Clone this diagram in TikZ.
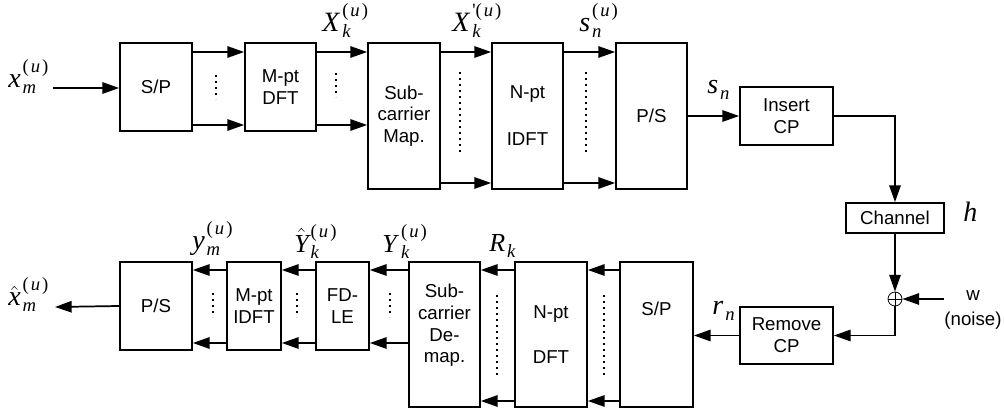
\documentclass[tikz,border=0pt]{standalone}
\usepackage{amsmath}
\usepackage{fontspec}
\setsansfont{Liberation Sans}
\newfontfamily\tms{Liberation Serif}
\usetikzlibrary{arrows.meta,calc}
% #1 main size, #2 main letter, #3 subscript, #4 superscript
\newcommand{\sy}[4][21]{{\tms\fontsize{#1}{#1}\selectfont\itshape #2\/}\kern1.5pt%
  \rlap{\raisebox{-4pt}{\tms\fontsize{14}{14}\selectfont\itshape #3}}%
  \raisebox{11.5pt}{\tms\fontsize{14}{14}\selectfont #4}}
\newcommand{\uu}{(\kern1.5pt\textit{u}\kern1.5pt)}
\newcommand{\uup}{\textquotesingle(\kern1.5pt\textit{u}\kern1.5pt)}
\newcommand{\hatit}[1]{$\hat{\hbox{#1}}$}
\newcommand{\blk}[6]{\node[box, minimum width={(#4-#2)*0.75pt}, minimum height={(#5-#3)*0.75pt}] (#1) at ({(#2+#4)/2},{(#3+#5)/2}) {#6};}
\begin{document}
\begin{tikzpicture}[x=0.75pt,y=-0.75pt,
  box/.style={draw, line width=1.3pt, inner sep=0pt, align=center, font=\sffamily\fontsize{14}{16.3}\selectfont},
  txt/.style={font=\sffamily\fontsize{14}{16.3}\selectfont, align=center, inner sep=0pt},
  arr/.style={line width=1.3pt, -{Triangle[length=12.5pt,width=8.5pt]}},
  dots/.style={line width=1.6pt, dash pattern=on 1.6pt off 2.9pt},
  sym/.style={inner sep=0pt, anchor=base west}]
\useasboundingbox (0,0) rectangle (1004,409);
% levels
\coordinate (ta) at (0,52);
\coordinate (tb) at (0,125);
\coordinate (tc) at (0,183);
\coordinate (ba) at (0,270);
\coordinate (bb) at (0,343);
\coordinate (bc) at (0,401);
% top row
\blk{sp1}{120}{43}{192}{131}{S/P}
\blk{mdft}{245}{43}{316}{131}{M-pt\\DFT}
\blk{map}{368}{43}{440}{189}{Sub-\\carrier\\Map.}
\blk{idft}{492}{43}{563}{189}{N-pt\\[19pt]IDFT}
\blk{ps1}{616}{43}{687}{189}{P/S}
\blk{icp}{740}{87}{833}{145}{Insert\\CP}
\blk{chan}{846}{203}{944}{233}{Channel}
\blk{rcp}{740}{307}{833}{364}{Remove\\CP}
% bottom row
\blk{sp2}{620}{262}{693}{407}{}
\blk{ndft}{515}{262}{587}{407}{N-pt\\[18pt]DFT}
\blk{demap}{409}{262}{480}{407}{}
\blk{fdle}{316}{262}{369}{350}{FD-\\LE}
\blk{midft}{227}{262}{281}{350}{M-pt\\IDFT}
\blk{ps2}{120}{262}{192}{350}{P/S}
\node[txt] (tsp2) at ($(sp2.center)+(0,-26)$) {S/P};
\node[txt] (tdemap) at ($(demap.center)+(0,-9)$) {Sub-\\carrier\\De-\\map.};
% adder
\node[circle, draw, line width=0.6pt, minimum size=14*0.75pt, inner sep=0pt,
  path picture={\draw[line width=0.6pt] (path picture bounding box.north) -- (path picture bounding box.south)
  (path picture bounding box.west) -- (path picture bounding box.east);}] (sum) at (895,299) {};
% free ends
\coordinate (xin) at (53,88);
\coordinate (xout) at (55,307);
\coordinate (wsrc) at (944,299);
% top connectors
\draw[arr] (xin) -- (xin -| sp1.west);
\draw[arr] (sp1.east |- ta) -- (mdft.west |- ta);
\draw[arr] (sp1.east |- tb) -- (mdft.west |- tb);
\draw[arr] (mdft.east |- ta) -- (map.west |- ta);
\draw[arr] (mdft.east |- tb) -- (map.west |- tb);
\draw[arr] (map.east |- ta) -- (idft.west |- ta);
\draw[arr] (map.east |- tc) -- (idft.west |- tc);
\draw[arr] (idft.east |- ta) -- (ps1.west |- ta);
\draw[arr] (idft.east |- tc) -- (ps1.west |- tc);
\draw[arr] (ps1.east) -- (icp.west);
\draw[arr] (icp.east) -| (chan.north);
\draw[arr] (chan.south) -- (sum.north);
\draw[arr] (wsrc) -- (sum.east);
\draw[arr] (sum.south) |- (rcp.east);
\draw[arr] (rcp.west) -- (rcp.west -| sp2.east);
% bottom connectors
\draw[arr] (sp2.west |- ba) -- (ndft.east |- ba);
\draw[arr] (sp2.west |- bc) -- (ndft.east |- bc);
\draw[arr] (ndft.west |- ba) -- (demap.east |- ba);
\draw[arr] (ndft.west |- bc) -- (demap.east |- bc);
\draw[arr] (demap.west |- ba) -- (fdle.east |- ba);
\draw[arr] (demap.west |- bb) -- (fdle.east |- bb);
\draw[arr] (fdle.west |- ba) -- (midft.east |- ba);
\draw[arr] (fdle.west |- bb) -- (midft.east |- bb);
\draw[arr] (midft.west |- ba) -- (ps2.east |- ba);
\draw[arr] (midft.west |- bb) -- (ps2.east |- bb);
\draw[arr] (ps2.west) -- (xout);
% dots
\draw[dots] (216,75) -- (216,99);
\draw[dots] (336,73) -- (336,97);
\draw[dots] (460,72) -- (460,154);
\draw[dots] (586,72) -- (586,153);
\draw[dots] (604,295) -- (604,376);
\draw[dots] (497,295) -- (497,376);
\draw[dots] (390,293) -- (390,317);
\draw[dots] (297,293) -- (297,317);
\draw[dots] (213,293) -- (213,317);
% labels
\node[sym] (lxm) at (8,88) {\sy{x}{m}{\uu}};
\node[sym] (lXk) at (322,32) {\sy{X}{k}{\uu}};
\node[sym] (lXpk) at (452,32) {\sy{X}{k}{\uup}};
\node[sym] (lsnu) at (579,32) {\sy{s}{n}{\uu}};
\node[sym] (lsn) at (707,94) {\sy{s}{n}{}};
\node[sym] (lh) at (963,222) {\sy{h}{}{}};
\node[sym] (lrn) at (712,315) {\sy{r}{n}{}};
\node[sym] (lRk) at (489,252) {\sy[19.5]{R}{k}{}};
\node[sym] (lYk) at (382,253) {\sy[19.5]{Y}{k}{\uu}};
\node[sym] (lYhk) at (294,253) {\sy[19.5]{\hatit{Y}}{k}{\uu}};
\node[sym] (lym) at (192,250) {\sy{y}{m}{\uu}};
\node[sym] (lxh) at (8,306) {\sy{\hatit{x}}{m}{\uu}};
\node[txt] (lw) at (973,310) {w\\[2pt](noise)};
\end{tikzpicture}
\end{document}
